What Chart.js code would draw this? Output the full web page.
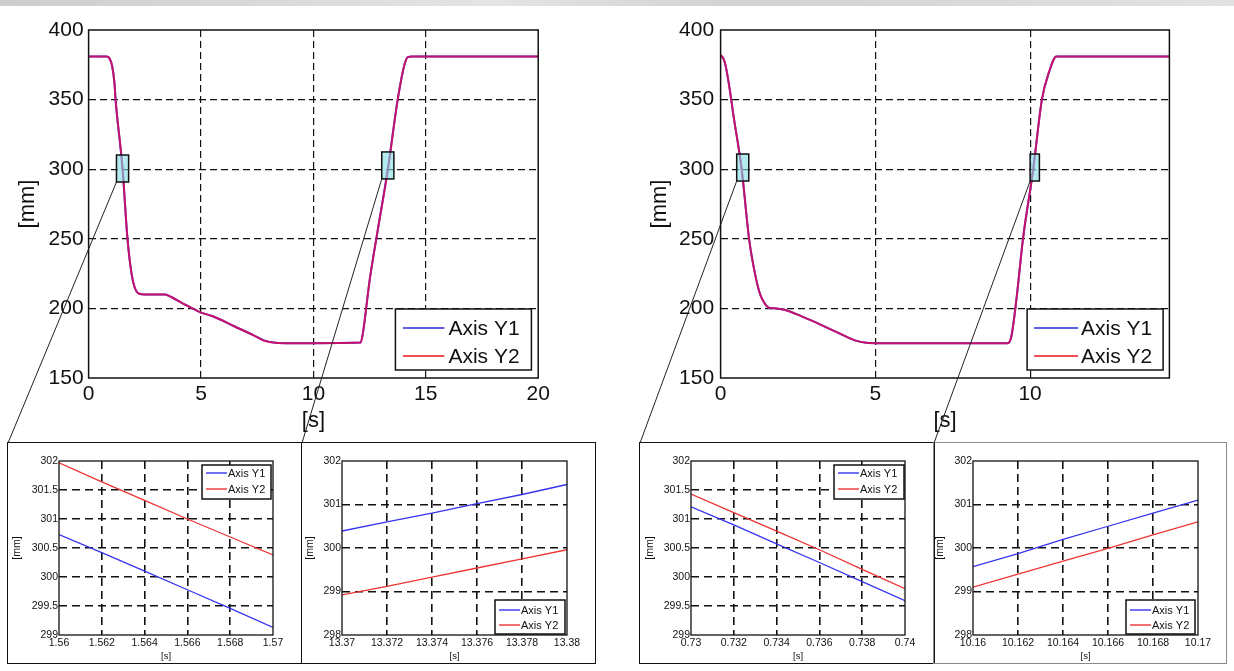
<!DOCTYPE html>
<html>
<head>
<meta charset="utf-8">
<title>Axis Y1 / Axis Y2</title>
<script src="https://cdn.jsdelivr.net/npm/chart.js@4.4.1/dist/chart.umd.min.js"></script>
<style>
  body { margin: 0; width: 1234px; height: 671px; position: relative; overflow: hidden; background: #fff; }
  #band { position: absolute; left: 0; top: 0; width: 1234px; height: 6px; background: linear-gradient(90deg, #cdcdcd, #e4e4e4 40%, #d2d2d2 60%, #e2e2e2); }
  canvas { position: absolute; }
  .frame { position: absolute; box-sizing: border-box; border: 1.5px solid #111; pointer-events: none; }
  #overlay { left: 0; top: 0; pointer-events: none; }
</style>
</head>
<body>
<div id="band"></div>
<canvas id="main1" width="600" height="440" style="left:0;top:0"></canvas>
<canvas id="main2" width="614" height="440" style="left:620px;top:0"></canvas>
<canvas id="zoom1" width="295" height="222" style="left:7px;top:442px"></canvas>
<canvas id="zoom2" width="295" height="222" style="left:301px;top:442px"></canvas>
<canvas id="zoom3" width="296" height="222" style="left:639px;top:442px"></canvas>
<canvas id="zoom4" width="294" height="222" style="left:933px;top:442px"></canvas>
<div class="frame" id="frame1" style="left:7px;top:442px;width:295px;height:222px"></div>
<div class="frame" id="frame2" style="left:301px;top:442px;width:295px;height:222px"></div>
<div class="frame" id="frame3" style="left:639px;top:442px;width:296px;height:222px"></div>
<div class="frame" id="frame4" style="left:933px;top:442px;width:294px;height:222px;border-color:#8a8a8a"></div>
<canvas id="overlay" width="1234" height="671"></canvas>
<script>
const FONT = '"Liberation Sans", Arial, sans-serif';

// left run, 0..20 s
let timeA = [0, 0.8, 0.95, 1.05, 1.15, 1.2, 1.51, 1.73, 1.91, 2.05, 2.25, 2.5, 3.4, 3.7, 4.2, 5, 5.5, 6.5, 7.3, 7.8, 8.3, 9, 12.1, 12.2, 12.5, 12.85, 13.31, 13.75, 14.05, 14.2, 14.4, 20];
let axisY1A = [381, 381, 379, 374, 362, 350, 300, 250, 225, 215, 210.5, 210, 210, 208, 203.5, 197, 194.5, 187, 181, 177, 175.3, 175, 175.5, 182, 220, 255, 300, 350, 375, 380.5, 381, 381];
let axisY2A = [381, 381, 379, 374, 362, 350, 301, 250, 225, 215, 210.5, 210, 210, 208, 203.5, 197, 194.5, 187, 181, 176.8, 175.3, 175, 175.5, 182, 220, 255, 299, 350, 375, 380.5, 381, 381];

// right run, 0..14.5 s
let timeB = [0, 0.1, 0.17, 0.29, 0.42, 0.68, 0.92, 1.11, 1.25, 1.36, 1.56, 1.8, 2.06, 2.6, 3.07, 3.7, 4.34, 4.7, 5.2, 9.27, 9.39, 9.55, 9.77, 10.1, 10.38, 10.6, 10.85, 14.5];
let axisY1B = [382, 379, 373.5, 358, 338, 300, 250, 225, 212, 206, 200.5, 200, 199, 194.5, 190, 183.5, 177, 175.3, 175, 175, 179.5, 205, 250, 300, 350, 369, 381, 381];
let axisY2B = [382, 379, 373.5, 358, 338, 300.2, 250, 225, 212, 206, 200.5, 200, 199, 194.5, 190, 183.5, 177, 175.3, 175, 175, 179.5, 205, 250, 299.8, 350, 369, 381, 381];

let mainYTicks = [150, 200, 250, 300, 350, 400];
let mainXTicksA = [0, 5, 10, 15, 20];
let mainXTicksB = [0, 5, 10];

// zoomed windows marked on the main plots
let boxesA = [{x: [1.24, 1.78], y: [290.8, 310.2]}, {x: [13.04, 13.58], y: [293, 312.4]}];
let boxesB = [{x: [0.52, 0.91], y: [291.5, 310.9]}, {x: [10.0, 10.3], y: [291.5, 310.9]}];

// insets
let zoomT1 = [1.56, 1.562, 1.564, 1.566, 1.568, 1.57];
let zoomY1a = [300.73, 300.42, 300.1, 299.78, 299.46, 299.13];
let zoomY2a = [301.97, 301.64, 301.32, 301.0, 300.69, 300.38];

let zoomT2 = [13.37, 13.372, 13.374, 13.376, 13.378, 13.38];
let zoomY1b = [300.39, 300.6, 300.8, 301.02, 301.23, 301.46];
let zoomY2b = [298.92, 299.12, 299.33, 299.54, 299.75, 299.96];

let zoomT3 = [0.73, 0.732, 0.734, 0.736, 0.738, 0.74];
let zoomY1c = [301.21, 300.9, 300.57, 300.25, 299.92, 299.59];
let zoomY2c = [301.43, 301.11, 300.79, 300.47, 300.13, 299.8];

let zoomT4 = [10.16, 10.162, 10.164, 10.166, 10.168, 10.17];
let zoomY1d = [299.57, 299.87, 300.2, 300.5, 300.8, 301.1];
let zoomY2d = [299.1, 299.4, 299.7, 299.99, 300.3, 300.6];

let zoomYTicksHalf = [299, 299.5, 300, 300.5, 301, 301.5, 302];
let zoomYTicksOne = [298, 299, 300, 301, 302];

let matlabFrame = {
  id: 'matlabFrame',
  afterDatasetsDraw(chart, args, opts) {
    let ctx = chart.ctx;
    let xs = chart.scales.x, ys = chart.scales.y;
    (opts.boxes || []).forEach(b => {
      let x0 = xs.getPixelForValue(b.x[0]), x1 = xs.getPixelForValue(b.x[1]);
      let y0 = ys.getPixelForValue(b.y[1]), y1 = ys.getPixelForValue(b.y[0]);
      ctx.save();
      ctx.fillStyle = 'rgba(130,222,228,0.6)';
      ctx.fillRect(x0, y0, x1 - x0, y1 - y0);
      ctx.strokeStyle = '#111';
      ctx.lineWidth = 1.5;
      ctx.strokeRect(x0, y0, x1 - x0, y1 - y0);
      ctx.restore();
    });
  },
  afterDraw(chart, args, opts) {
    let ctx = chart.ctx, a = chart.chartArea;
    ctx.save();
    ctx.strokeStyle = '#111';
    ctx.lineWidth = opts.frameWidth;
    ctx.strokeRect(a.left, a.top, a.right - a.left, a.bottom - a.top);

    let lg = opts.legend;
    let bx = a.right - lg.dx - lg.w;
    let by = lg.top ? a.top + lg.dy : a.bottom - lg.dy - lg.h;
    ctx.fillStyle = '#fff';
    ctx.fillRect(bx, by, lg.w, lg.h);
    ctx.lineWidth = lg.border;
    ctx.strokeRect(bx, by, lg.w, lg.h);
    chart.data.datasets.forEach((ds, i) => {
      let yy = by + lg.rows[i];
      ctx.strokeStyle = ds.legendColor || ds.borderColor;
      ctx.lineWidth = lg.lineW;
      ctx.beginPath();
      ctx.moveTo(bx + lg.line[0], yy);
      ctx.lineTo(bx + lg.line[1], yy);
      ctx.stroke();
      ctx.fillStyle = '#111';
      ctx.font = lg.size + 'px ' + FONT;
      ctx.textBaseline = 'middle';
      ctx.fillText(ds.label, bx + lg.textX, yy + 1);
    });
    ctx.restore();
  }
};
Chart.register(matlabFrame);

function innerOnly(lo, hi) {
  return (c) => (c.tick && c.tick.value > lo + 1e-9 && c.tick.value < hi - 1e-9) ? '#111' : 'rgba(0,0,0,0)';
}

function makePlot(id, p) {
  let canvas = document.getElementById(id);
  let W = canvas.width, H = canvas.height;
  let ptsA = p.t.map((t, i) => ({x: t, y: p.y1[i]}));
  let ptsB = p.t.map((t, i) => ({x: t, y: p.y2[i]}));
  let tickFmt = v => String(+Number(v).toFixed(4));

  return new Chart(canvas, {
    type: 'line',
    data: {
      datasets: [
        {label: 'Axis Y1', data: ptsA, borderColor: p.c1, borderWidth: p.lw, pointRadius: 0, order: 1, cubicInterpolationMode: p.smooth ? 'monotone' : 'default'},
        {label: 'Axis Y2', data: ptsB, borderColor: p.c2, legendColor: p.l2, borderWidth: p.lw, pointRadius: 0, order: 0, cubicInterpolationMode: p.smooth ? 'monotone' : 'default'}
      ]
    },
    options: {
      responsive: false,
      animation: false,
      events: [],
      layout: {padding: {left: 0, top: p.area.top, right: W - p.area.right, bottom: 0}},
      plugins: {
        legend: {display: false},
        tooltip: {enabled: false},
        matlabFrame: {boxes: p.boxes || [], legend: p.legend, frameWidth: p.fw}
      },
      scales: {
        x: {
          type: 'linear',
          min: p.xr[0], max: p.xr[1],
          afterBuildTicks: s => { s.ticks = p.xt.map(v => ({value: v})); },
          afterFit: s => { s.height = H - p.area.bottom; },
          grid: {color: innerOnly(p.xr[0], p.xr[1]), lineWidth: p.gw, drawTicks: false},
          border: {display: false, dash: p.dash},
          ticks: {autoSkip: false, maxRotation: 0, padding: p.xtp, color: '#111', font: {family: FONT, size: p.fs}, callback: tickFmt},
          title: {display: true, text: '[s]', color: '#111', font: {family: FONT, size: p.ts}, padding: {top: 0, bottom: p.xTitlePad}}
        },
        y: {
          type: 'linear',
          min: p.yr[0], max: p.yr[1],
          afterBuildTicks: s => { s.ticks = p.yt.map(v => ({value: v})); },
          afterFit: s => { s.width = p.area.left; },
          grid: {color: innerOnly(p.yr[0], p.yr[1]), lineWidth: p.gw, drawTicks: false},
          border: {display: false, dash: p.dash},
          ticks: {autoSkip: false, padding: p.ytp, color: '#111', font: {family: FONT, size: p.fs}, callback: tickFmt},
          title: {display: true, text: '[mm]', color: '#111', font: {family: FONT, size: p.yts || p.ts}, padding: {top: p.yTitlePad, bottom: 0}}
        }
      }
    }
  });
}

let mainStyle = {lw: 2, c1: '#2a2ad8', c2: 'rgba(240,10,80,0.78)', l2: '#e8141e', smooth: true, gw: 1.2, dash: [7, 4], fw: 1.5, fs: 21, ts: 22, xtp: 4, xTitlePad: 6};
let zoomStyle = {lw: 1.3, c1: '#3434ee', c2: '#ee3434', smooth: false, gw: 1.6, dash: [8, 5], fw: 1.3, fs: 10.5, ts: 9.5, yts: 10.5, xtp: 2, ytp: 1, xTitlePad: 1.5};

let main1 = makePlot('main1', Object.assign({}, mainStyle, {
  t: timeA, y1: axisY1A, y2: axisY2A, xr: [0, 20], yr: [150, 400], xt: mainXTicksA, yt: mainYTicks,
  area: {left: 88.6, top: 30, right: 538.2, bottom: 378}, ytp: 5, yTitlePad: 14.5, boxes: boxesA,
  legend: {top: false, dx: 6.8, dy: 8, w: 136, h: 61, rows: [19, 47], line: [7.5, 49], textX: 53, size: 21, lineW: 1.5, border: 1.5}
}));

let main2 = makePlot('main2', Object.assign({}, mainStyle, {
  t: timeB, y1: axisY1B, y2: axisY2B, xr: [0, 14.5], yr: [150, 400], xt: mainXTicksB, yt: mainYTicks,
  area: {left: 100.6, top: 30, right: 549.4, bottom: 378}, ytp: 6.5, yTitlePad: 26.6, boxes: boxesB,
  legend: {top: false, dx: 6.3, dy: 8, w: 136, h: 61, rows: [19, 47], line: [7, 51], textX: 54, size: 21, lineW: 1.5, border: 1.5}
}));

let insetLegendTop = {top: true, dy: 4, w: 69, h: 34, rows: [8, 24], line: [4, 25], textX: 26, size: 11, lineW: 1.4, border: 1.5};
let insetLegendBottom = {top: false, dy: 1, w: 70, h: 34, rows: [10, 25], line: [4, 25], textX: 26, size: 11, lineW: 1.4, border: 1.5};

makePlot('zoom1', Object.assign({}, zoomStyle, {
  t: zoomT1, y1: zoomY1a, y2: zoomY2a, xr: [1.56, 1.57], yr: [299, 302], xt: zoomT1, yt: zoomYTicksHalf,
  area: {left: 52, top: 19, right: 266, bottom: 193}, yTitlePad: 3.5,
  legend: Object.assign({}, insetLegendTop, {dx: 2})
}));
makePlot('zoom2', Object.assign({}, zoomStyle, {
  t: zoomT2, y1: zoomY1b, y2: zoomY2b, xr: [13.37, 13.38], yr: [298, 302], xt: zoomT2, yt: zoomYTicksOne,
  area: {left: 41, top: 19, right: 266, bottom: 193}, yTitlePad: 2.5,
  legend: Object.assign({}, insetLegendBottom, {dx: 2})
}));
makePlot('zoom3', Object.assign({}, zoomStyle, {
  t: zoomT3, y1: zoomY1c, y2: zoomY2c, xr: [0.73, 0.74], yr: [299, 302], xt: zoomT3, yt: zoomYTicksHalf,
  area: {left: 52, top: 19, right: 266, bottom: 193}, yTitlePad: 4.5,
  legend: Object.assign({}, insetLegendTop, {dx: 1, w: 70})
}));
makePlot('zoom4', Object.assign({}, zoomStyle, {
  t: zoomT4, y1: zoomY1d, y2: zoomY2d, xr: [10.16, 10.17], yr: [298, 302], xt: zoomT4, yt: zoomYTicksOne,
  area: {left: 40, top: 19, right: 265, bottom: 193}, yTitlePad: 0.5,
  legend: Object.assign({}, insetLegendBottom, {dx: 3, w: 69})
}));

// thin leader lines from each marked window to its inset
let ov = document.getElementById('overlay').getContext('2d');
ov.strokeStyle = '#222';
ov.lineWidth = 1;
function connect(chart, canvasId, box, frameId) {
  let c = document.getElementById(canvasId), f = document.getElementById(frameId);
  let x0 = c.offsetLeft + chart.scales.x.getPixelForValue(box.x[0]);
  let y0 = c.offsetTop + chart.scales.y.getPixelForValue(box.y[0]);
  ov.beginPath();
  ov.moveTo(x0, y0);
  ov.lineTo(f.offsetLeft + 1, f.offsetTop + 1);
  ov.stroke();
}
connect(main1, 'main1', boxesA[0], 'frame1');
connect(main1, 'main1', boxesA[1], 'frame2');
connect(main2, 'main2', boxesB[0], 'frame3');
connect(main2, 'main2', boxesB[1], 'frame4');
</script>
</body>
</html>
